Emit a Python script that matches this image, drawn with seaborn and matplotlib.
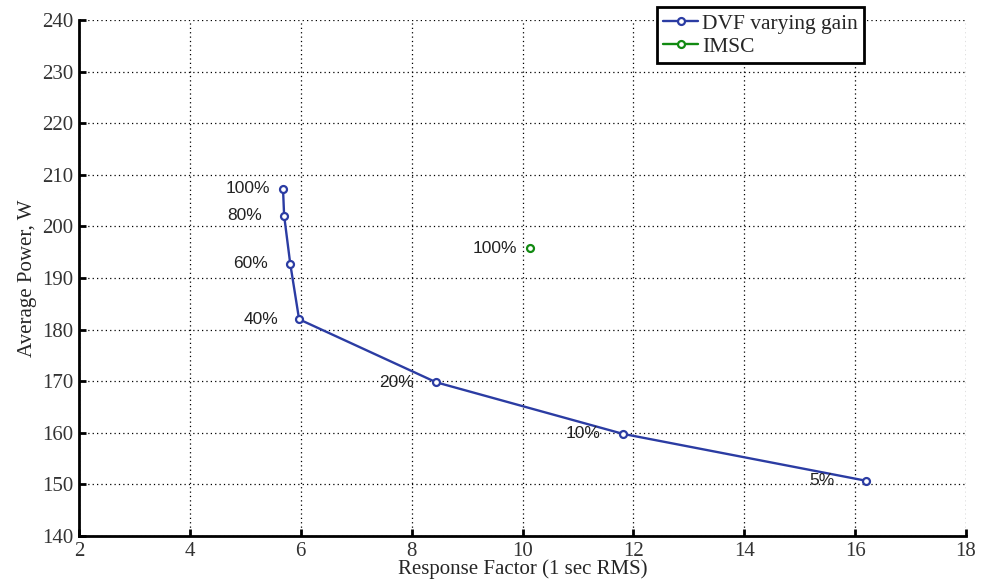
import matplotlib
matplotlib.use("Agg")
import matplotlib.pyplot as plt
import seaborn as sns
import pandas as pd

# DVF controller swept over gain settings
dvf_gain = ["100%", "80%", "60%", "40%", "20%", "10%", "5%"]
dvf_response = [5.68, 5.70, 5.81, 5.97, 8.44, 11.81, 16.20]
dvf_power = [207.3, 202.1, 192.8, 182.0, 169.8, 159.8, 150.7]

# IMSC reference point
imsc_gain = ["100%"]
imsc_response = [10.13]
imsc_power = [195.8]

x_ticks = [2, 4, 6, 8, 10, 12, 14, 16, 18]
y_ticks = [140, 150, 160, 170, 180, 190, 200, 210, 220, 230, 240]

sns.set_style("white")
serif = ["Liberation Serif", "DejaVu Serif"]
sans = ["Liberation Sans", "DejaVu Sans"]

fig = plt.figure(figsize=(9.89, 5.84), dpi=100)
ax = fig.add_axes([79 / 989, 1 - 536 / 584, (966 - 79) / 989, (536 - 20) / 584])

dvf = pd.DataFrame({"x": dvf_response, "y": dvf_power, "gain": dvf_gain})
imsc = pd.DataFrame({"x": imsc_response, "y": imsc_power, "gain": imsc_gain})

blue = "#2b3ca3"
green = "#118a11"

sns.lineplot(data=dvf, x="x", y="y", sort=False, ax=ax, color=blue,
             linewidth=1.7, marker="o", markersize=5, markerfacecolor="white",
             markeredgecolor=blue, markeredgewidth=1.6, label="DVF varying gain",
             zorder=3)
sns.lineplot(data=imsc, x="x", y="y", sort=False, ax=ax, color=green,
             linewidth=1.7, marker="o", markersize=5, markerfacecolor="white",
             markeredgecolor=green, markeredgewidth=1.6, label="IMSC", zorder=3)

# gain labels beside each point
dvf_offsets = [-13, -22, -22, -21, -22, -22, -32]
for gx, gy, g, off in zip(dvf_response, dvf_power, dvf_gain, dvf_offsets):
    ax.annotate(g, (gx, gy), xytext=(off, 0), textcoords="offset pixels",
                ha="right", va="center", fontsize=12.5, family=sans,
                color="#222222")
for gx, gy, g in zip(imsc_response, imsc_power, imsc_gain):
    ax.annotate(g, (gx, gy), xytext=(-13, 0), textcoords="offset pixels",
                ha="right", va="center", fontsize=12.5, family=sans,
                color="#222222")

ax.set_xlim(2, 18)
ax.set_ylim(140, 240)
ax.set_xticks(x_ticks)
ax.set_yticks(y_ticks)
ax.set_xticklabels([str(t) for t in x_ticks], family=serif, fontsize=15)
ax.set_yticklabels([str(t) for t in y_ticks], family=serif, fontsize=15)
ax.set_xlabel("Response Factor (1 sec RMS)", family=serif, fontsize=15, labelpad=-1)
ax.set_ylabel("Average Power, W", family=serif, fontsize=15, labelpad=4)

ax.grid(True, linestyle=(0, (1, 2.5)), color="black", linewidth=0.9)
ax.set_axisbelow(True)
for side in ["top", "right"]:
    ax.spines[side].set_visible(False)
for side in ["left", "bottom"]:
    ax.spines[side].set_color("black")
    ax.spines[side].set_linewidth(2)
ax.tick_params(direction="in", length=5, width=2, colors="black",
               labelcolor="#333333", pad=4, left=True, bottom=True)

leg = ax.legend(loc="upper left", bbox_to_anchor=(657 / 989, 1 - 7 / 584),
                bbox_transform=fig.transFigure, borderaxespad=0,
                prop={"family": serif, "size": 15.5}, fancybox=False,
                frameon=True, framealpha=1, edgecolor="black",
                handlelength=1.6, handletextpad=0.2, borderpad=0.3,
                labelspacing=0.15)
leg.get_frame().set_linewidth(2)

fig.savefig("out.png", dpi=100)
